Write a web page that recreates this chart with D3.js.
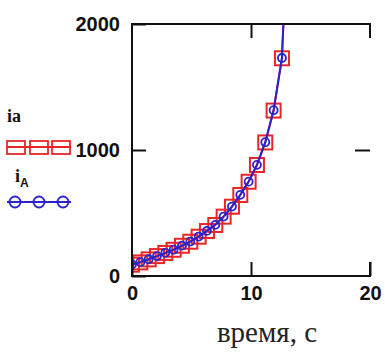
<!DOCTYPE html>
<html lang="ru">

<head>
  <title></title>
  <meta charset="UTF-8">
  <style>
    body {
      margin: 0;
      background: #fff;
    }
  </style>
</head>

<body>
  <div id="container"></div>
  <script src="https://cdn.jsdelivr.net/npm/d3@7"></script>
  <script>
    // time points (s) and the two current series
    const times = [0, 0.7, 1.4, 2.1, 2.8, 3.5, 4.2, 4.9, 5.6, 6.3, 7.0, 7.7, 8.4, 9.1, 9.8, 10.5, 11.2, 11.9, 12.6, 13.3];
    const ia = [90, 108, 132, 158, 183, 208, 240, 272, 312, 357, 405, 471, 550, 643, 748, 881, 1060, 1313, 1728, 3300];
    const iA = [92, 110, 133, 158, 184, 209, 241, 273, 313, 358, 406, 472, 551, 644, 749, 882, 1062, 1316, 1730, 3300];
    const xTicks = [0, 10, 20];
    const yTicks = [0, 1000, 2000];

    const W = 385, H = 354;
    const plot = { left: 132, right: 370, top: 24, bottom: 276 };
    const red = '#e8262a', blue = '#2a22cc';

    const x = d3.scaleLinear().domain([0, 20]).range([plot.left, plot.right]);
    const y = d3.scaleLinear().domain([0, 2000]).range([plot.bottom, plot.top]);

    const svg = d3.select('#container').append('svg')
      .attr('width', W).attr('height', H);

    svg.append('clipPath').attr('id', 'clip')
      .append('rect')
      .attr('x', plot.left).attr('y', plot.top)
      .attr('width', plot.right - plot.left).attr('height', plot.bottom - plot.top);

    const ptsA = times.map((t, i) => [t, ia[i]]);
    const ptsB = times.map((t, i) => [t, iA[i]]);
    const line = d3.line().x(d => x(d[0])).y(d => y(d[1]));

    const g = svg.append('g').attr('clip-path', 'url(#clip)');
    // ia: red squares
    g.append('path').datum(ptsA).attr('d', line)
      .attr('fill', 'none').attr('stroke', red).attr('stroke-width', 2);
    g.selectAll('rect.sq').data(ptsA).enter().append('rect')
      .attr('class', 'sq')
      .attr('x', d => x(d[0]) - 7).attr('y', d => y(d[1]) - 7)
      .attr('width', 14).attr('height', 14)
      .attr('fill', 'none').attr('stroke', red).attr('stroke-width', 2);
    // iA: blue circles
    g.append('path').datum(ptsB).attr('d', line)
      .attr('fill', 'none').attr('stroke', blue).attr('stroke-width', 2);
    g.selectAll('circle').data(ptsB).enter().append('circle')
      .attr('cx', d => x(d[0])).attr('cy', d => y(d[1])).attr('r', 4)
      .attr('fill', 'none').attr('stroke', blue).attr('stroke-width', 1.8);

    // frame: left, bottom, top full; right side only ticks
    const frame = svg.append('g').attr('stroke', '#111').attr('stroke-width', 2).attr('fill', 'none');
    frame.append('path')
      .attr('d', `M${plot.right},${plot.top}H${plot.left}V${plot.bottom}H${plot.right}`);
    frame.append('path')
      .attr('d', `M${plot.right},${plot.top - 1}v15M${plot.right},${plot.bottom + 1}v-15`);

    const tickFont = g => g.selectAll('text')
      .attr('font-family', 'Liberation Sans, Arial, sans-serif')
      .attr('font-weight', 'bold').attr('font-size', 20).attr('fill', '#111');

    const ax = svg.append('g').attr('transform', `translate(0,${plot.bottom})`)
      .call(d3.axisBottom(x).tickValues(xTicks).tickSize(-14).tickPadding(10).tickFormat(d3.format('d')));
    ax.call(tickFont);
    const ay = svg.append('g').attr('transform', `translate(${plot.left},0)`)
      .call(d3.axisLeft(y).tickValues(yTicks).tickSize(-14).tickPadding(12).tickFormat(d3.format('d')));
    ay.call(tickFont);
    const at = svg.append('g').attr('transform', `translate(0,${plot.top})`)
      .call(d3.axisTop(x).tickValues([10]).tickSize(-14).tickFormat(''));
    const ar = svg.append('g').attr('transform', `translate(${plot.right},0)`)
      .call(d3.axisRight(y).tickValues([1000]).tickSize(-15).tickFormat(''));
    [ax, ay, at, ar].forEach(a => {
      a.select('.domain').remove();
      a.selectAll('line').attr('stroke', '#111').attr('stroke-width', 2);
    });

    // axis title
    svg.append('text')
      .attr('x', 267).attr('y', 342)
      .attr('text-anchor', 'middle')
      .attr('font-family', 'Liberation Serif, Times New Roman, serif')
      .attr('font-size', 29).attr('fill', '#222')
      .text('время, с');

    // legend
    const leg = svg.append('g');
    leg.append('text').attr('x', 7).attr('y', 122)
      .attr('font-family', 'Liberation Serif, serif').attr('font-weight', 'bold')
      .attr('font-size', 18).attr('fill', '#111').text('ia');
    leg.append('line').attr('x1', 7).attr('x2', 71).attr('y1', 147).attr('y2', 147)
      .attr('stroke', red).attr('stroke-width', 1.8);
    [16, 39, 61].forEach(cx => leg.append('rect')
      .attr('x', cx - 9).attr('y', 141).attr('width', 18).attr('height', 13)
      .attr('fill', 'none').attr('stroke', red).attr('stroke-width', 1.8));

    const lab = leg.append('text').attr('x', 15).attr('y', 182)
      .attr('font-family', 'Liberation Serif, serif').attr('font-weight', 'bold')
      .attr('font-size', 18).attr('fill', '#111');
    lab.append('tspan').text('i');
    lab.append('tspan').attr('dy', 5).attr('font-size', 12)
      .attr('font-family', 'Liberation Sans, sans-serif').text('A');
    leg.append('line').attr('x1', 7).attr('x2', 71).attr('y1', 202).attr('y2', 202)
      .attr('stroke', blue).attr('stroke-width', 1.8);
    [15, 39, 63].forEach(cx => leg.append('circle')
      .attr('cx', cx).attr('cy', 202).attr('r', 5.5)
      .attr('fill', 'none').attr('stroke', blue).attr('stroke-width', 1.8));
  </script>
</body>

</html>
